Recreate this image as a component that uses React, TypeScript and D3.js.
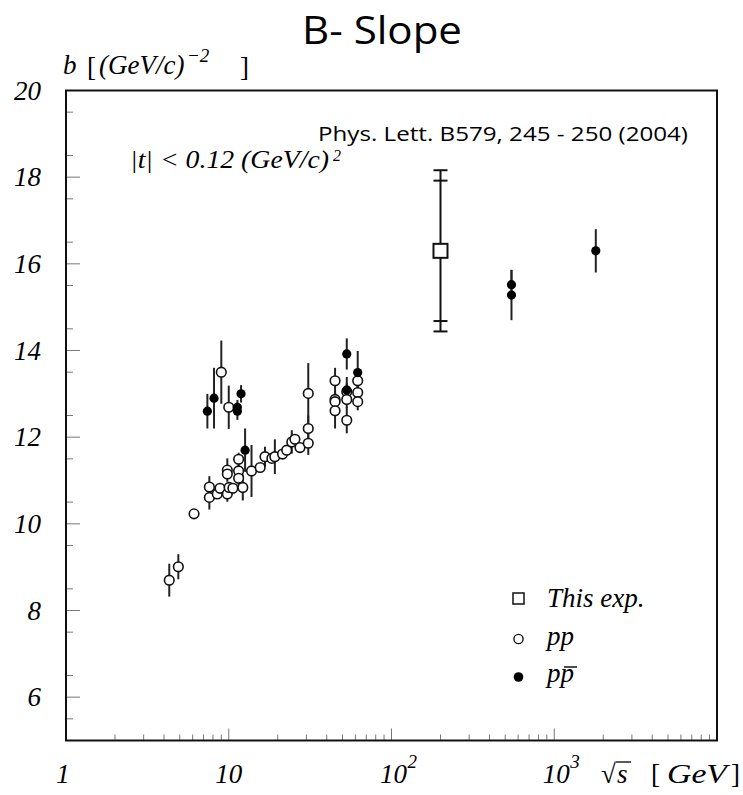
import * as d3 from 'd3'

// sqrt(s) [GeV], b [(GeV/c)^-2], error
const ppData = [
  { s: 4.31, b: 8.70, e: 0.38 },
  { s: 4.90, b: 9.01, e: 0.29 },
  { s: 6.12, b: 10.23, e: 0.05 },
  { s: 7.60, b: 10.85, e: 0.25 },
  { s: 7.60, b: 10.61, e: 0.28 },
  { s: 8.50, b: 10.69, e: 0.1 },
  { s: 8.84, b: 10.82, e: 0.1 },
  { s: 9.00, b: 13.50, e: 0.73 },
  { s: 9.80, b: 10.69, e: 0.18 },
  { s: 9.80, b: 11.24, e: 0.27 },
  { s: 9.80, b: 11.15, e: 0.1 },
  { s: 10.0, b: 12.69, e: 0.5 },
  { s: 10.05, b: 10.84, e: 0.1 },
  { s: 10.6, b: 10.82, e: 0.1 },
  { s: 11.5, b: 11.49, e: 0.15 },
  { s: 11.5, b: 11.22, e: 0.15 },
  { s: 11.5, b: 11.05, e: 0.15 },
  { s: 12.2, b: 10.84, e: 0.3 },
  { s: 13.8, b: 11.22, e: 0.6 },
  { s: 15.6, b: 11.30, e: 0.1 },
  { s: 16.7, b: 11.55, e: 0.23 },
  { s: 18.4, b: 11.51, e: 0.1 },
  { s: 19.2, b: 11.55, e: 0.4 },
  { s: 21.4, b: 11.61, e: 0.1 },
  { s: 22.7, b: 11.70, e: 0.1 },
  { s: 24.4, b: 11.89, e: 0.27 },
  { s: 25.5, b: 11.95, e: 0.1 },
  { s: 27.4, b: 11.76, e: 0.1 },
  { s: 30.8, b: 13.01, e: 0.7 },
  { s: 30.8, b: 12.20, e: 0.3 },
  { s: 30.8, b: 11.86, e: 0.27 },
  { s: 45.0, b: 13.30, e: 0.3 },
  { s: 45.0, b: 12.87, e: 0.2 },
  { s: 45.0, b: 12.82, e: 0.2 },
  { s: 45.0, b: 12.61, e: 0.41 },
  { s: 53.1, b: 13.05, e: 0.2 },
  { s: 53.1, b: 12.87, e: 0.2 },
  { s: 53.1, b: 12.39, e: 0.3 },
  { s: 62.0, b: 13.30, e: 0.2 },
  { s: 62.0, b: 13.03, e: 0.2 },
  { s: 62.0, b: 12.82, e: 0.2 },
]

const ppbarData = [
  { s: 7.39, b: 12.60, e: 0.4 },
  { s: 8.12, b: 12.90, e: 0.7 },
  { s: 11.3, b: 12.69, e: 0.17 },
  { s: 11.3, b: 12.60, e: 0.2 },
  { s: 11.9, b: 13.00, e: 0.2 },
  { s: 12.6, b: 11.70, e: 0.5 },
  { s: 53.1, b: 13.92, e: 0.36 },
  { s: 53.1, b: 13.09, e: 0.3 },
  { s: 62.0, b: 13.49, e: 0.5 },
  { s: 546, b: 15.52, e: 0.34 },
  { s: 546, b: 15.28, e: 0.58 },
  { s: 1800, b: 16.30, e: 0.5 },
]

// this experiment: stat error and total error
const thisExp = [{ s: 200, b: 16.3, stat: 1.62, tot: 1.86 }]

const yMajor = [6, 8, 10, 12, 14, 16, 18, 20]

const serif = '"Liberation Serif", "Times New Roman", serif'
const sans = '"Open Sans", "Noto Sans", sans-serif'

export default function App() {
  const width = 743
  const height = 795
  const left = 66, right = 717, top = 90.5, bottom = 740.5

  const x = d3.scaleLog().domain([1, 10000]).range([left, right])
  const y = d3.scaleLinear().domain([5, 20]).range([bottom, top])

  const xMinor: number[] = []
  for (let p = 0; p < 4; p++) for (let k = 2; k <= 9; k++) xMinor.push(k * Math.pow(10, p))
  const xMajorT = [10, 100, 1000]
  const yMinor = d3.range(5.5, 20, 1)

  const errLine = (d: { s: number; b: number; e: number }, i: number) => (
    <line key={i} x1={x(d.s)} x2={x(d.s)} y1={y(d.b - d.e)} y2={y(d.b + d.e)} stroke="#222" strokeWidth={2} />
  )

  return (
    <div style={{ position: 'absolute', left: 0, top: 0 }}>
      <svg width={width} height={height} style={{ display: 'block', background: '#fff' }}>
        {/* title */}
        <text x={302} y={44} fontFamily={sans} fontSize={39} textLength={160} lengthAdjust="spacingAndGlyphs">B- Slope</text>

        {/* y axis title */}
        <g fontFamily={serif} fontSize={27}>
          <text x={63} y={74} fontStyle="italic">b</text>
          <text x={87} y={76}>[</text>
          <text x={99} y={74} fontStyle="italic">(GeV/c)</text>
          <text x={187} y={62} fontStyle="italic" fontSize={19}>−2</text>
          <text x={240} y={76}>]</text>
        </g>

        {/* frame ticks */}
        {xMinor.map((v, i) => (
          <line key={'xm' + i} x1={x(v)} x2={x(v)} y1={bottom} y2={bottom - 6} stroke="#777" strokeWidth={1} />
        ))}
        {xMajorT.map((v, i) => (
          <line key={'xM' + i} x1={x(v)} x2={x(v)} y1={bottom} y2={bottom - 12} stroke="#777" strokeWidth={1} />
        ))}
        {yMinor.map((v, i) => (
          <line key={'ym' + i} x1={left} x2={left + 7} y1={y(v)} y2={y(v)} stroke="#777" strokeWidth={1} />
        ))}
        {yMajor.map((v, i) => (
          <line key={'yM' + i} x1={left} x2={left + 14} y1={y(v)} y2={y(v)} stroke="#777" strokeWidth={1} />
        ))}
        <rect x={left} y={top} width={right - left} height={bottom - top} fill="none" stroke="#111" strokeWidth={2} />

        {/* y tick labels */}
        {yMajor.map((v, i) => (
          <text key={'yl' + i} x={41} y={y(v) + 9} textAnchor="end" fontFamily={serif} fontStyle="italic" fontSize={27}>{v}</text>
        ))}

        {/* x tick labels */}
        <g fontFamily={serif} fontStyle="italic" fontSize={27}>
          <text x={x(1) - 3} y={783} textAnchor="middle">1</text>
          <text x={x(10)} y={783} textAnchor="middle">10</text>
          <text x={x(100) + 2} y={783} textAnchor="middle">10</text>
          <text x={x(100) + 16} y={768} fontSize={19}>2</text>
          <text x={x(1000) + 2} y={783} textAnchor="middle">10</text>
          <text x={x(1000) + 16} y={768} fontSize={19}>3</text>
          <text x={601} y={783} fontStyle="normal">√</text>
          <text x={617} y={783}>s</text>
          <line x1={616} x2={631} y1={762} y2={762} stroke="#000" strokeWidth={1.3} />
          <text x={651} y={783} fontStyle="normal">[</text>
          <text x={667} y={783} textLength={60} lengthAdjust="spacingAndGlyphs">GeV</text>
          <text x={731} y={783} fontStyle="normal">]</text>
        </g>

        {/* annotations */}
        <text x={130} y={168} fontFamily={serif} fontStyle="italic" fontSize={25} textLength={199} lengthAdjust="spacingAndGlyphs">|t| &lt; 0.12 (GeV/c)</text>
        <text x={333} y={161} fontFamily={serif} fontStyle="italic" fontSize={16}>2</text>
        <text x={318} y={141} fontFamily={sans} fontSize={20.5} textLength={370} lengthAdjust="spacingAndGlyphs">Phys. Lett. B579, 245 - 250 (2004)</text>

        {/* this experiment */}
        {thisExp.map((d, i) => {
          const cx = x(d.s)
          return (
            <g key={'te' + i} stroke="#111" strokeWidth={2}>
              <line x1={cx} x2={cx} y1={y(d.b - d.tot)} y2={y(d.b + d.tot)} />
              {[d.b - d.tot, d.b - d.stat, d.b + d.stat, d.b + d.tot].map((v, j) => (
                <line key={j} x1={cx - 7} x2={cx + 7} y1={y(v)} y2={y(v)} />
              ))}
              <rect x={cx - 7} y={y(d.b) - 7} width={14} height={14} fill="#fff" />
            </g>
          )
        })}

        {/* error bars */}
        {ppData.map(errLine)}
        {ppbarData.map(errLine)}

        {/* pp open circles */}
        {ppData.map((d, i) => (
          <circle key={'pp' + i} cx={x(d.s)} cy={y(d.b)} r={4.8} fill="#fff" stroke="#111" strokeWidth={1.6} />
        ))}
        {/* ppbar filled circles */}
        {ppbarData.map((d, i) => (
          <circle key={'pb' + i} cx={x(d.s)} cy={y(d.b)} r={4.6} fill="#000" />
        ))}

        {/* legend */}
        <rect x={513} y={593} width={11} height={11} fill="#fff" stroke="#111" strokeWidth={1.5} />
        <circle cx={518.5} cy={639} r={4.6} fill="#fff" stroke="#111" strokeWidth={1.4} />
        <circle cx={518.5} cy={677} r={4.8} fill="#000" />
        <g fontFamily={serif} fontStyle="italic" fontSize={27}>
          <text x={547} y={607}>This exp.</text>
          <text x={547} y={645}>pp</text>
          <text x={547} y={682}>pp</text>
        </g>
        <line x1={564} x2={577} y1={667} y2={667} stroke="#000" strokeWidth={1.4} />
      </svg>
    </div>
  )
}
